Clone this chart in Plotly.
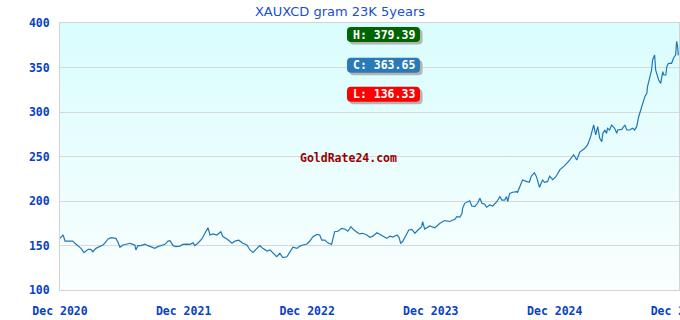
import base64
import plotly.graph_objects as go

# ---- data ----
dates = [
    "2020-12-01", "2020-12-10", "2020-12-16", "2020-12-25", "2021-01-08", "2021-01-14", "2021-01-23",
    "2021-02-01", "2021-02-10", "2021-02-22", "2021-03-02", "2021-03-08", "2021-03-17", "2021-03-29",
    "2021-04-07", "2021-04-13", "2021-04-22", "2021-05-01", "2021-05-15", "2021-05-21", "2021-05-27",
    "2021-06-05", "2021-06-14", "2021-06-26", "2021-07-04", "2021-07-10", "2021-07-13", "2021-07-19",
    "2021-07-28", "2021-08-09", "2021-08-18", "2021-08-27", "2021-09-07", "2021-09-16", "2021-09-25",
    "2021-10-07", "2021-10-16", "2021-10-22", "2021-10-31", "2021-11-08", "2021-11-20", "2021-11-29",
    "2021-12-11", "2021-12-20", "2021-12-29", "2022-01-03", "2022-01-12", "2022-01-24", "2022-02-02",
    "2022-02-11", "2022-02-17", "2022-02-26", "2022-03-09", "2022-03-21", "2022-03-27", "2022-04-08",
    "2022-04-23", "2022-05-02", "2022-05-13", "2022-05-25", "2022-06-06", "2022-06-15", "2022-06-24",
    "2022-07-05", "2022-07-14", "2022-07-23", "2022-08-04", "2022-08-13", "2022-08-22", "2022-09-02",
    "2022-09-11", "2022-09-20", "2022-10-02", "2022-10-11", "2022-10-20", "2022-11-01", "2022-11-09",
    "2022-11-18", "2022-11-30", "2022-12-09", "2022-12-18", "2022-12-30", "2023-01-07", "2023-01-13",
    "2023-01-22", "2023-01-31", "2023-02-11", "2023-02-14", "2023-02-20", "2023-03-02", "2023-03-13",
    "2023-03-22", "2023-03-31", "2023-04-09", "2023-04-15", "2023-04-27", "2023-05-05", "2023-05-14",
    "2023-05-26", "2023-06-04", "2023-06-13", "2023-06-25", "2023-07-03", "2023-07-12", "2023-07-24",
    "2023-08-02", "2023-08-11", "2023-08-23", "2023-08-29", "2023-09-03", "2023-09-09", "2023-09-18",
    "2023-09-27", "2023-10-06", "2023-10-15", "2023-10-24", "2023-11-04", "2023-11-07", "2023-11-13",
    "2023-11-28", "2023-12-13", "2023-12-28", "2024-01-11", "2024-01-26", "2024-02-10", "2024-02-16",
    "2024-02-25", "2024-03-02", "2024-03-04", "2024-03-10", "2024-03-19", "2024-03-25", "2024-03-31",
    "2024-04-09", "2024-04-18", "2024-04-24", "2024-04-30", "2024-05-08", "2024-05-14", "2024-05-23",
    "2024-06-01", "2024-06-13", "2024-06-22", "2024-06-28", "2024-07-06", "2024-07-12", "2024-07-15",
    "2024-07-21", "2024-07-30", "2024-08-10", "2024-08-13", "2024-08-19", "2024-08-28", "2024-09-08",
    "2024-09-17", "2024-09-23", "2024-10-02", "2024-10-08", "2024-10-17", "2024-10-26", "2024-11-01",
    "2024-11-10", "2024-11-16", "2024-11-25", "2024-12-04", "2024-12-16", "2024-12-31", "2025-01-14",
    "2025-01-26", "2025-02-04", "2025-02-13", "2025-02-28", "2025-03-08", "2025-03-17", "2025-03-23",
    "2025-03-26", "2025-04-01", "2025-04-07", "2025-04-13", "2025-04-19", "2025-04-22", "2025-04-28",
    "2025-05-03", "2025-05-06", "2025-05-12", "2025-05-18", "2025-05-27", "2025-06-02", "2025-06-05",
    "2025-06-17", "2025-06-26", "2025-07-02", "2025-07-10", "2025-07-19", "2025-07-25", "2025-07-31",
    "2025-08-06", "2025-08-12", "2025-08-18", "2025-08-24", "2025-08-30", "2025-09-01", "2025-09-07",
    "2025-09-13", "2025-09-16", "2025-09-22", "2025-09-25", "2025-09-28", "2025-10-04", "2025-10-10",
    "2025-10-16", "2025-10-19", "2025-10-25", "2025-10-28", "2025-11-02", "2025-11-11", "2025-11-17",
    "2025-11-23", "2025-11-26", "2025-11-29", "2025-12-01",
]
prices = [
    158.0, 162.0, 155.0, 155.0, 155.0, 152.5, 149.8,
    146.8, 142.0, 145.7, 145.7, 143.0, 146.8, 148.7,
    150.6, 153.0, 157.3, 158.8, 158.0, 154.0, 148.0,
    150.6, 151.3, 152.5, 151.3, 150.6, 145.0, 149.8,
    149.8, 151.5, 149.8, 148.7, 146.8, 148.7, 149.8,
    151.3, 155.0, 155.5, 149.8, 148.7, 149.3, 151.3,
    151.5, 151.3, 153.0, 149.8, 152.5, 157.3, 163.7,
    170.0, 161.8, 163.0, 161.8, 165.5, 160.0, 157.3,
    152.5, 155.0, 156.0, 152.5, 150.6, 145.0, 142.3,
    146.8, 149.8, 146.8, 143.8, 145.0, 141.2, 137.4,
    141.2, 136.33, 137.4, 143.0, 148.0, 146.8, 149.3,
    150.6, 151.7, 155.0, 160.0, 162.5, 161.8, 156.0,
    156.0, 153.0, 151.3, 156.0, 165.5, 166.0, 169.3,
    168.5, 166.0, 171.2, 168.5, 164.8, 163.0, 163.7,
    161.8, 159.2, 160.5, 164.4, 163.0, 160.7, 158.0,
    160.5, 159.5, 161.8, 159.5, 152.5, 154.5, 160.5,
    167.4, 168.0, 163.7, 167.4, 171.2, 176.7, 168.5,
    172.0, 170.0, 175.0, 178.0, 177.0, 179.4, 182.4,
    182.0, 186.0, 191.8, 197.4, 199.2, 200.3, 194.4,
    193.6, 198.0, 203.0, 197.4, 196.3, 193.0, 195.5,
    194.4, 199.2, 204.8, 201.0, 201.0, 205.0, 199.2,
    208.6, 209.8, 210.5, 209.8, 215.4, 223.6, 222.0,
    221.0, 228.0, 231.8, 227.3, 215.4, 223.6, 221.0,
    222.0, 228.0, 224.0, 227.0, 235.0, 240.0, 246.0,
    252.0, 246.0, 255.0, 259.2, 263.0, 272.3, 283.5,
    285.4, 274.2, 283.5, 270.4, 266.7, 276.0, 279.8,
    276.0, 281.7, 279.8, 285.4, 281.7, 276.0, 279.8,
    280.5, 285.4, 279.8, 279.8, 281.7, 279.8, 283.5,
    294.7, 302.2, 311.6, 317.2, 321.0, 328.4, 337.9,
    347.2, 358.4, 364.0, 347.2, 343.5, 336.0, 332.2,
    345.3, 341.6, 341.6, 351.0, 354.7, 354.7, 360.7,
    364.0, 379.39, 373.4, 363.65,
]
title_text = "XAUXCD gram 23K 5years"
badge_labels = ["H: 379.39", "C: 363.65", "L: 136.33"]
badge_colors = ["#006400", "#2a7ab8", "#ff0000"]
watermark = "GoldRate24.com"
y_ticks = [100, 150, 200, 250, 300, 350, 400]
x_ticks = ["2020-12-01", "2021-12-01", "2022-12-01", "2023-12-01", "2024-12-01", "2025-12-01"]

# ---- styling ----
W, H = 680, 320
ML, MR, MT, MB = 60, 1, 23, 30
PW, PH = W - ML - MR, H - MT - MB
TICK_BLUE = "#0741c8"
MONO = "DejaVu Sans Mono"

svg = (
    '<svg xmlns="http://www.w3.org/2000/svg" width="100" height="100" preserveAspectRatio="none">'
    '<defs><linearGradient id="g" x1="0" y1="0" x2="0" y2="1">'
    '<stop offset="0" stop-color="#d9fdfd"/><stop offset="1" stop-color="#fafefe"/>'
    '</linearGradient></defs><rect width="100" height="100" fill="url(#g)"/></svg>'
)
bg_src = "data:image/svg+xml;base64," + base64.b64encode(svg.encode()).decode()

fig = go.Figure()
fig.add_trace(go.Scatter(
    x=dates, y=prices, mode="lines",
    line=dict(color="#1f78b4", width=1.2),
    hoverinfo="skip", showlegend=False,
))

# badges (rounded boxes with shadow)
bx = (383.5 - ML) / PW
bys = [(290 - 34.5) / PH, (290 - 65.3) / PH, (290 - 94.2) / PH]
hw, hh, r = 36.5, 7.5, 4


def rrect(w, h, r):
    return (f"M {-w+r},{-h} L {w-r},{-h} Q {w},{-h} {w},{-h+r} L {w},{h-r} Q {w},{h} {w-r},{h} "
            f"L {-w+r},{h} Q {-w},{h} {-w},{h-r} L {-w},{-h+r} Q {-w},{-h} {-w+r},{-h} Z")


shapes = []
annotations = []
for lab, col, by in zip(badge_labels, badge_colors, bys):
    shapes.append(dict(type="path", xref="paper", yref="paper", xsizemode="pixel", ysizemode="pixel",
                       xanchor=bx + 2.5 / PW, yanchor=by - 2.5 / PH, path=rrect(hw, hh, r),
                       fillcolor="#b4b4b4", line=dict(width=0), layer="above"))
    shapes.append(dict(type="path", xref="paper", yref="paper", xsizemode="pixel", ysizemode="pixel",
                       xanchor=bx, yanchor=by, path=rrect(hw, hh, r),
                       fillcolor=col, line=dict(width=0), layer="above"))
    annotations.append(dict(text=lab, xref="paper", yref="paper", x=bx, y=by, showarrow=False,
                            xanchor="center", yanchor="middle",
                            font=dict(family=MONO, size=11.5, color="white", weight="bold")))

annotations.append(dict(text=watermark, xref="paper", yref="paper", x=(348 - ML) / PW, y=(290 - 158) / PH,
                        showarrow=False, xanchor="center", yanchor="middle",
                        font=dict(family=MONO, size=11.5, color="#990000", weight="bold")))

fig.update_layout(
    width=W, height=H,
    margin=dict(l=ML, r=MR, t=MT, b=MB, pad=0, autoexpand=False),
    paper_bgcolor="white",
    plot_bgcolor="rgba(0,0,0,0)",
    title=dict(text=title_text, x=0.5, xanchor="center", y=1 - 11 / H, yanchor="middle",
               font=dict(family="DejaVu Sans", size=13, color="#1a4fd0")),
    images=[dict(source=bg_src, xref="paper", yref="paper", x=0, y=1, sizex=1, sizey=1,
                 xanchor="left", yanchor="top", sizing="stretch", layer="below")],
    shapes=shapes,
    annotations=annotations,
    xaxis=dict(
        type="date", range=["2020-12-01", "2025-12-03"],
        tickvals=x_ticks, tickformat="%b %Y", ticklabeloverflow="allow", automargin=False,
        showgrid=False, zeroline=False,
        showline=True, linecolor="#d4d4d4", linewidth=1, mirror=True,
        ticks="", ticklabelstandoff=10,
        tickfont=dict(family=MONO, size=11.5, color=TICK_BLUE, weight="bold"),
    ),
    yaxis=dict(
        range=[100, 400], tickvals=y_ticks, automargin=False,
        showgrid=True, gridcolor="#d8d8d8", gridwidth=1, zeroline=False,
        showline=True, linecolor="#d4d4d4", linewidth=1, mirror=True,
        ticks="", ticklabelstandoff=7,
        tickfont=dict(family=MONO, size=11.5, color=TICK_BLUE, weight="bold"),
    ),
)

fig.write_html("out.html")
